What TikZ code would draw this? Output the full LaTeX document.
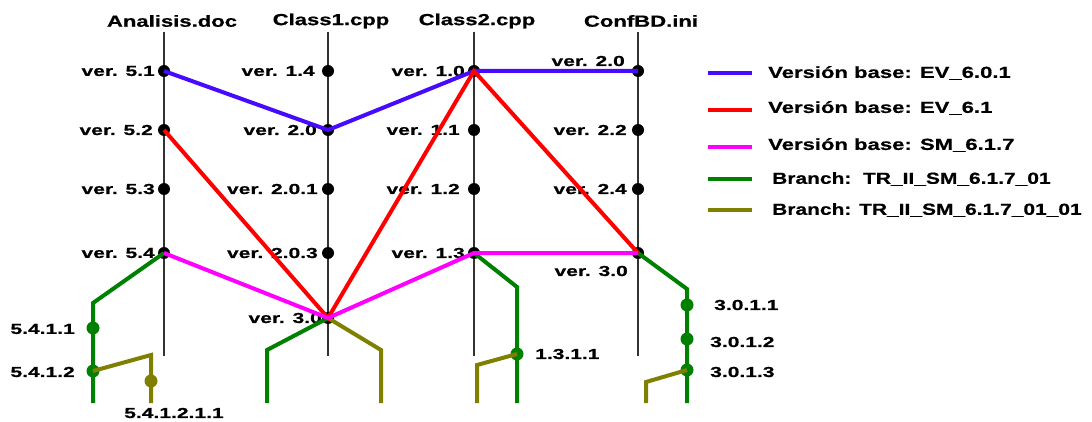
\documentclass[tikz,border=0pt]{standalone}
\usepackage{fontspec}
\newfontfamily\labfont{Liberation Sans}[FakeStretch=1.45,FakeBold=0.6]
\newfontfamily\hdrfont{Liberation Sans}[FakeStretch=1.38,FakeBold=0.6]
\newfontfamily\brfont{Liberation Sans}[FakeStretch=1.31,FakeBold=0.6]
\definecolor{vline}{RGB}{50,50,50}
\definecolor{bluev}{RGB}{70,10,255}
\definecolor{redv}{RGB}{255,0,0}
\definecolor{magv}{RGB}{255,0,255}
\definecolor{greenv}{RGB}{0,128,0}
\definecolor{olivev}{RGB}{128,128,0}
\tikzset{
  vtrack/.style={draw=vline, line width=2pt},
  dotv/.style={circle, fill=black, inner sep=0pt, minimum size=12pt},
  gdot/.style={circle, fill=greenv, inner sep=0pt, minimum size=13pt},
  odot/.style={circle, fill=olivev, inner sep=0pt, minimum size=13pt},
  lab/.style={font=\labfont\bfseries\fontsize{14.5}{16}\selectfont, inner sep=0pt, text=black},
  vlab/.style={lab, anchor=east},
  hdr/.style={font=\hdrfont\bfseries\fontsize{16}{18}\selectfont, inner sep=0pt, text=black},
  leg/.style={font=\hdrfont\bfseries\fontsize{16}{18}\selectfont, inner sep=0pt, anchor=west, text=black},
  legb/.style={leg, font=\brfont\bfseries\fontsize{16}{18}\selectfont},
  mainline/.style={line width=4pt},
  brline/.style={line width=4pt},
}
\begin{document}
\begin{tikzpicture}[x=1pt,y=-1pt]
\useasboundingbox[fill=white] (0,0) rectangle (1092,422);
% headers
\node[hdr] (hA) at (172,21) {Analisis.doc};
\node[hdr] (hB) at (331,21) {Class1.cpp};
\node[hdr] (hC) at (477,21) {Class2.cpp};
\node[hdr] (hD) at (641,21) {ConfBD.ini};
% track ends
\coordinate (tA) at (164,32); \coordinate (bA) at (164,356);
\coordinate (tB) at (328,32); \coordinate (bB) at (328,356);
\coordinate (tC) at (474,32); \coordinate (bC) at (474,356);
\coordinate (tD) at (638,32); \coordinate (bD) at (638,356);
\draw[vtrack] (tA) -- (bA);
\draw[vtrack] (tB) -- (bB);
\draw[vtrack] (tC) -- (bC);
\draw[vtrack] (tD) -- (bD);
% labels
\node[vlab] (lA1) at (155,71) {ver. 5.1};
\node[vlab] (lA2) at (153,130) {ver. 5.2};
\node[vlab] (lA3) at (155,189) {ver. 5.3};
\node[vlab] (lA4) at (155,253) {ver. 5.4};
\node[vlab] (lB1) at (315,71) {ver. 1.4};
\node[vlab] (lB2) at (317,130) {ver. 2.0};
\node[vlab] (lB3) at (318,189) {ver. 2.0.1};
\node[vlab] (lB4) at (318,253) {ver. 2.0.3};
\node[vlab] (lB5) at (322,318) {ver. 3.0};
\node[vlab] (lC1) at (465,71) {ver. 1.0};
\node[vlab] (lC2) at (460,130) {ver. 1.1};
\node[vlab] (lC3) at (460,189) {ver. 1.2};
\node[vlab] (lC4) at (465,253) {ver. 1.3};
\node[vlab] (lD1) at (625,61) {ver. 2.0};
\node[vlab] (lD2) at (627,130) {ver. 2.2};
\node[vlab] (lD3) at (627,189) {ver. 2.4};
\node[vlab] (lD4) at (628,271) {ver. 3.0};
% version dots
\node[dotv] (A1) at (164,71) {};
\node[dotv] (A2) at (164,130) {};
\node[dotv] (A3) at (164,189) {};
\node[dotv] (A4) at (164,253) {};
\node[dotv] (B1) at (328,71) {};
\node[dotv] (B2) at (328,130) {};
\node[dotv] (B3) at (328,189) {};
\node[dotv] (B4) at (328,253) {};
\node[dotv] (B5) at (328,318) {};
\node[dotv] (C1) at (474,71) {};
\node[dotv] (C2) at (474,130) {};
\node[dotv] (C3) at (474,189) {};
\node[dotv] (C4) at (474,253) {};
\node[dotv] (D1) at (638,71) {};
\node[dotv] (D2) at (638,130) {};
\node[dotv] (D3) at (638,189) {};
\node[dotv] (D4) at (638,253) {};
% branch corner points
\coordinate (gk1) at (93,303);  \coordinate (ge1) at (93,403);
\coordinate (ok1) at (151,355); \coordinate (oe1) at (151,403);
\coordinate (gk2) at (267,350); \coordinate (ge2) at (267,403);
\coordinate (ok2) at (381,350); \coordinate (oe2) at (381,403);
\coordinate (gk3) at (517,287); \coordinate (ge3) at (517,403);
\coordinate (ok3) at (477,365); \coordinate (oe3) at (477,403);
\coordinate (gk4) at (687,289); \coordinate (ge4) at (687,403);
\coordinate (ok4) at (646,382); \coordinate (oe4) at (646,403);
% branch dots
\node[gdot] (G11) at (93,328) {};
\node[gdot] (G12) at (93,371) {};
\node[odot] (O11) at (151,381) {};
\node[gdot] (G31) at (517,354) {};
\node[gdot] (G41) at (687,305) {};
\node[gdot] (G42) at (687,339) {};
\node[gdot] (G43) at (687,370) {};
% branch lines
\draw[brline, greenv] (A4.center) -- (gk1) -- (ge1);
\draw[brline, olivev] (G12.center) -- (ok1) -- (oe1);
\draw[brline, greenv] (B5.center) -- (gk2) -- (ge2);
\draw[brline, olivev] (B5.center) -- (ok2) -- (oe2);
\draw[brline, greenv] (C4.center) -- (gk3) -- (ge3);
\draw[brline, olivev] (G31.center) -- (ok3) -- (oe3);
\draw[brline, greenv] (D4.center) -- (gk4) -- (ge4);
\draw[brline, olivev] (G43.center) -- (ok4) -- (oe4);
% base lines
\draw[mainline, bluev] (A1.center) -- (B2.center) -- (C1.center) -- (D1.center);
\draw[mainline, redv] (A2.center) -- (B5.center) -- (C1.center) -- (D4.center);
\draw[mainline, magv] (A4.center) -- (B5.center) -- (C4.center) -- (D4.center);
% branch labels
\node[lab, anchor=east] (t1) at (75,329) {5.4.1.1};
\node[lab, anchor=east] (t2) at (75,372) {5.4.1.2};
\node[lab] (t3) at (174,413) {5.4.1.2.1.1};
\node[lab, anchor=west] (t4) at (535,354) {1.3.1.1};
\node[lab, anchor=west] (t5) at (714,305) {3.0.1.1};
\node[lab, anchor=west] (t6) at (710,342) {3.0.1.2};
\node[lab, anchor=west] (t7) at (710,372) {3.0.1.3};
% legend
\coordinate (k1a) at (708,73);  \coordinate (k1b) at (752,73);
\coordinate (k2a) at (708,110); \coordinate (k2b) at (752,110);
\coordinate (k3a) at (708,147); \coordinate (k3b) at (752,147);
\coordinate (k4a) at (708,179); \coordinate (k4b) at (752,179);
\coordinate (k5a) at (708,210); \coordinate (k5b) at (752,210);
\draw[mainline, bluev] (k1a) -- (k1b);
\draw[mainline, redv] (k2a) -- (k2b);
\draw[mainline, magv] (k3a) -- (k3b);
\draw[mainline, greenv] (k4a) -- (k4b);
\draw[mainline, olivev] (k5a) -- (k5b);
\node[leg] (L1) at (768,73) {Versión base: EV\_6.0.1};
\node[leg] (L2) at (768,108) {Versión base: EV\_6.1};
\node[leg] (L3) at (768,145) {Versión base: SM\_6.1.7};
\node[legb] (L4) at (772,179) {Branch:\ \ TR\_II\_SM\_6.1.7\_01};
\node[legb] (L5) at (772,210) {Branch: TR\_II\_SM\_6.1.7\_01\_01};
\end{tikzpicture}
\end{document}
